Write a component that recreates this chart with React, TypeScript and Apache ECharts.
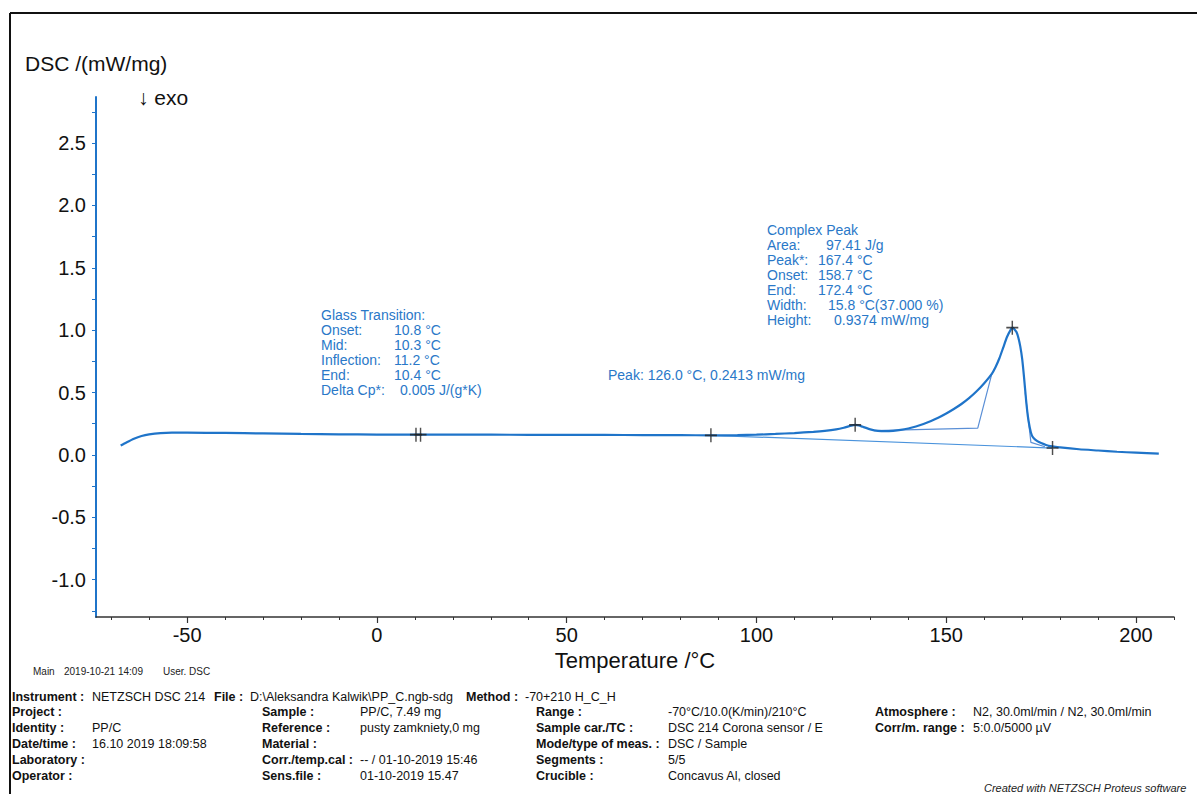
import React, { useEffect, useRef } from "react";
import * as echarts from "echarts";

const tempMain = [-67.5, -66, -64, -62, -60, -57, -54, -50, -40, -30, -20, -10, 0, 10, 20, 30, 40, 50, 60, 70, 80, 88, 95, 100, 105, 110, 115, 118, 121, 123, 125, 126, 127, 128, 130, 132, 134, 136, 138, 140, 142, 144, 146, 148, 150, 152, 154, 156, 158, 160, 162, 163, 164, 165, 166, 167, 167.5, 168, 168.5, 169, 169.5, 170, 170.5, 171, 171.5, 172, 172.5, 173, 174, 175, 177, 180, 185, 190, 195, 200, 206];
const dscMain = [0.075, 0.1, 0.13, 0.152, 0.165, 0.175, 0.178, 0.178, 0.176, 0.172, 0.168, 0.165, 0.163, 0.162, 0.163, 0.162, 0.161, 0.16, 0.16, 0.159, 0.158, 0.157, 0.158, 0.162, 0.168, 0.175, 0.185, 0.193, 0.205, 0.218, 0.235, 0.241, 0.236, 0.225, 0.205, 0.193, 0.19, 0.193, 0.2, 0.212, 0.228, 0.248, 0.272, 0.3, 0.332, 0.368, 0.408, 0.455, 0.51, 0.575, 0.65, 0.705, 0.775, 0.86, 0.945, 1.005, 1.02, 1.005, 0.985, 0.94, 0.87, 0.77, 0.62, 0.45, 0.31, 0.22, 0.16, 0.135, 0.11, 0.095, 0.072, 0.06, 0.045, 0.035, 0.025, 0.018, 0.01];

const baseLongT = [88, 178];
const baseLongV = [0.157, 0.055];
const tangentT = [131, 158.3, 162];
const tangentV = [0.195, 0.215, 0.65];
const endT = [170.8, 172.3, 176];
const endV = [0.5, 0.1, 0.065];

const markT = [10.3, 11.5, 88, 126, 167.4, 178];
const markV = [0.162, 0.162, 0.157, 0.241, 1.02, 0.055];

const xLabelVals = [-50, 0, 50, 100, 150, 200];
const xMinorVals = [-70, -60, -50, -40, -30, -20, -10, 0, 10, 20, 30, 40, 50, 60, 70, 80, 90, 100, 110, 120, 130, 140, 150, 160, 170, 180, 190, 200, 210];
const yLabelVals = [-1, -0.5, 0, 0.5, 1, 1.5, 2, 2.5];
const yTickVals = [-1.25, -1, -0.75, -0.5, -0.25, 0, 0.25, 0.5, 0.75, 1, 1.25, 1.5, 1.75, 2, 2.25, 2.5, 2.75];

const glassLabels = ["Onset:", "Mid:", "Inflection:", "End:", "Delta Cp*:"];
const glassValues = ["10.8 °C", "10.3 °C", "11.2 °C", "10.4 °C", "0.005 J/(g*K)"];
const peakLabels = ["Area:", "Peak*:", "Onset:", "End:", "Width:", "Height:"];
const peakValues = ["97.41 J/g", "167.4 °C", "158.7 °C", "172.4 °C", "15.8 °C(37.000 %)", "0.9374 mW/mg"];

const FONT = "'Liberation Sans', Arial, sans-serif";
const BLUE = "#1f74c9";
const TXT = "#2a78c8";

const pair = (t: number[], v: number[]) => t.map((x, i) => [x, v[i]]);

export default function App() {
  const ref = useRef<HTMLDivElement>(null);
  useEffect(() => {
    if (!ref.current) return;
    const chart = echarts.init(ref.current, undefined, { renderer: "svg" });

    const graphics: any[] = [];
    graphics.push({ type: "line", shape: { x1: 10, y1: 13, x2: 1197, y2: 13 }, style: { stroke: "#111", lineWidth: 2 } });
    graphics.push({ type: "line", shape: { x1: 10, y1: 13, x2: 10, y2: 794 }, style: { stroke: "#111", lineWidth: 2 } });
    graphics.push({ type: "text", x: 25, y: 63, style: { text: "DSC /(mW/mg)", font: `21px ${FONT}`, fill: "#111", verticalAlign: "middle" } });
    graphics.push({ type: "text", x: 138, y: 97, style: { text: "↓ exo", font: `21px ${FONT}`, fill: "#111", verticalAlign: "middle" } });

    const BF = `14px ${FONT}`;
    graphics.push({ type: "text", x: 321, y: 315, style: { text: "Glass Transition:", font: BF, fill: TXT, verticalAlign: "middle" } });
    const gx = [394, 394, 394, 394, 400];
    glassLabels.forEach((l, i) => {
      graphics.push({ type: "text", x: 321, y: 330 + i * 15, style: { text: l, font: BF, fill: TXT, verticalAlign: "middle" } });
      graphics.push({ type: "text", x: gx[i], y: 330 + i * 15, style: { text: glassValues[i], font: BF, fill: TXT, verticalAlign: "middle" } });
    });
    graphics.push({ type: "text", x: 767, y: 230, style: { text: "Complex Peak", font: BF, fill: TXT, verticalAlign: "middle" } });
    const px = [826, 818, 818, 818, 828, 834];
    peakLabels.forEach((l, i) => {
      graphics.push({ type: "text", x: 767, y: 245 + i * 15, style: { text: l, font: BF, fill: TXT, verticalAlign: "middle" } });
      graphics.push({ type: "text", x: px[i], y: 245 + i * 15, style: { text: peakValues[i], font: BF, fill: TXT, verticalAlign: "middle" } });
    });
    graphics.push({ type: "text", x: 608, y: 375, style: { text: "Peak: 126.0 °C, 0.2413 mW/mg", font: BF, fill: TXT, verticalAlign: "middle" } });

    const small = (x: number, y: number, t: string) => graphics.push({ type: "text", x, y, style: { text: t, font: `10px ${FONT}`, fill: "#222", verticalAlign: "middle" } });
    small(33, 671, "Main");
    small(64, 671, "2019-10-21 14:09");
    small(163, 671, "User. DSC");

    const F = 12.5;
    const bold = (x: number, y: number, t: string) => graphics.push({ type: "text", x, y, style: { text: t, font: `bold ${F}px ${FONT}`, fill: "#111", verticalAlign: "middle" } });
    const reg = (x: number, y: number, t: string) => graphics.push({ type: "text", x, y, style: { text: t, font: `${F}px ${FONT}`, fill: "#111", verticalAlign: "middle" } });
    bold(12, 697, "Instrument :"); reg(92, 697, "NETZSCH DSC 214");
    bold(214, 697, "File :"); reg(250, 697, "D:\\Aleksandra Kalwik\\PP_C.ngb-sdg");
    bold(466, 697, "Method :"); reg(525, 697, "-70+210 H_C_H");
    const rows = [712, 728, 744, 760, 776];
    bold(12, rows[0], "Project :");
    bold(12, rows[1], "Identity :"); reg(92, rows[1], "PP/C");
    bold(12, rows[2], "Date/time :"); reg(92, rows[2], "16.10 2019 18:09:58");
    bold(12, rows[3], "Laboratory :");
    bold(12, rows[4], "Operator :");
    bold(262, rows[0], "Sample :"); reg(360, rows[0], "PP/C, 7.49 mg");
    bold(262, rows[1], "Reference :"); reg(360, rows[1], "pusty zamkniety,0 mg");
    bold(262, rows[2], "Material :");
    bold(262, rows[3], "Corr./temp.cal :"); reg(360, rows[3], "-- / 01-10-2019 15:46");
    bold(262, rows[4], "Sens.file :"); reg(360, rows[4], "01-10-2019 15.47");
    bold(536, rows[0], "Range :"); reg(668, rows[0], "-70°C/10.0(K/min)/210°C");
    bold(536, rows[1], "Sample car./TC :"); reg(668, rows[1], "DSC 214 Corona sensor / E");
    bold(536, rows[2], "Mode/type of meas. :"); reg(668, rows[2], "DSC / Sample");
    bold(536, rows[3], "Segments :"); reg(668, rows[3], "5/5");
    bold(536, rows[4], "Crucible :"); reg(668, rows[4], "Concavus Al, closed");
    bold(875, rows[0], "Atmosphere :"); reg(973, rows[0], "N2, 30.0ml/min / N2, 30.0ml/min");
    bold(875, rows[1], "Corr/m. range :"); reg(973, rows[1], "5:0.0/5000 µV");
    graphics.push({ type: "text", x: 984, y: 788, style: { text: "Created with NETZSCH Proteus software", font: `italic 11px ${FONT}`, fill: "#222", verticalAlign: "middle" } });

    const plus = "path://M-0.12,-1H0.12V-0.12H1V0.12H0.12V1H-0.12V0.12H-1V-0.12H-0.12Z";

    chart.setOption({
      animation: false,
      backgroundColor: "#fff",
      grid: { left: 96, right: 23, top: 97, bottom: 177, containLabel: false },
      xAxis: [
        {
          type: "value", min: -74, max: 210,
          name: "Temperature /°C", nameLocation: "middle", nameGap: 32,
          nameTextStyle: { fontFamily: FONT, fontSize: 22, color: "#111" },
          axisLine: { show: true, onZero: false, lineStyle: { color: "#333", width: 1.5 } },
          axisTick: { show: true, length: 6, customValues: xLabelVals, lineStyle: { color: "#333", width: 1.2 } },
          axisLabel: { customValues: xLabelVals, fontFamily: FONT, fontSize: 20, color: "#111", margin: 8 },
          splitLine: { show: false },
        },
        {
          type: "value", min: -74, max: 210, position: "bottom",
          axisLine: { show: false, onZero: false },
          axisTick: { show: true, length: 3, customValues: xMinorVals, lineStyle: { color: "#333", width: 1 } },
          axisLabel: { show: false },
          splitLine: { show: false },
        },
      ],
      yAxis: {
        type: "value", min: -1.3, max: 2.87,
        axisLine: { show: true, onZero: false, lineStyle: { color: BLUE, width: 2 } },
        axisTick: { show: true, length: 4, customValues: yTickVals, lineStyle: { color: BLUE, width: 1 } },
        axisLabel: { customValues: yLabelVals, fontFamily: FONT, fontSize: 20, color: "#111", margin: 10, formatter: (v: number) => v.toFixed(1) },
        splitLine: { show: false },
      },
      graphic: graphics,
      series: [
        { type: "line", data: pair(baseLongT, baseLongV), symbol: "none", lineStyle: { color: "#4a93dc", width: 1.2 }, z: 2 },
        { type: "line", data: pair(tangentT, tangentV), symbol: "none", lineStyle: { color: "#5a8fd6", width: 1.2 }, z: 2 },
        { type: "line", data: pair(endT, endV), symbol: "none", lineStyle: { color: "#5a8fd6", width: 1.2 }, z: 2 },
        { type: "line", data: pair(tempMain, dscMain), symbol: "none", smooth: 0.2, lineStyle: { color: BLUE, width: 2.2 }, z: 3 },
        { type: "scatter", data: pair(markT, markV), symbol: plus, symbolSize: [12, 14], itemStyle: { color: "#222" }, z: 4 },
      ],
    });
    return () => chart.dispose();
  }, []);
  return <div ref={ref} style={{ position: "fixed", left: 0, top: 0, width: 1197, height: 794 }} />;
}
